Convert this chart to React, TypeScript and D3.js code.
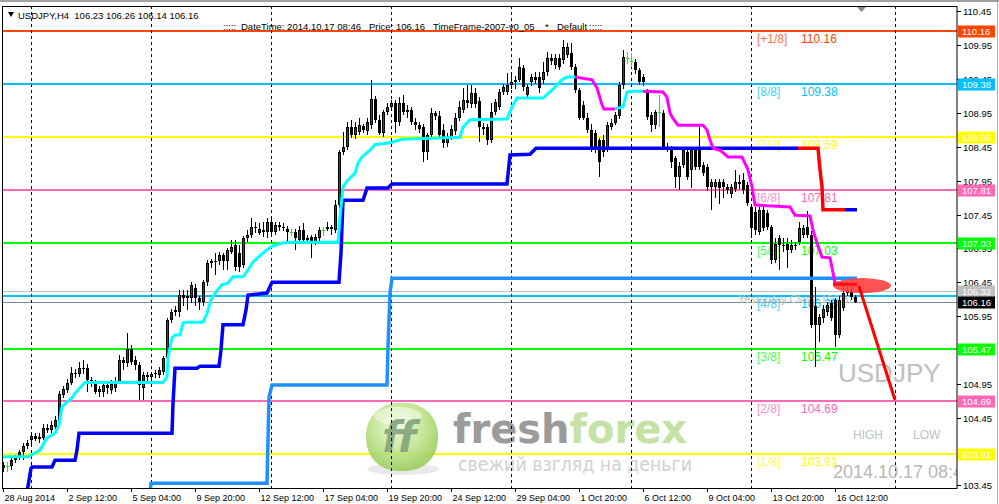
import React from "react";
import * as d3 from "d3";

// ---------- DATA ----------
// USDJPY H4 candles: [open, high, low, close]
const ohlc: [number, number, number, number][] = [
  [103.75,103.79,103.65,103.71],[103.74,103.79,103.64,103.74],[103.73,103.85,103.67,103.82],[103.82,103.90,103.78,103.86],
  [103.86,103.97,103.83,103.94],[103.94,104.07,103.82,104.03],[104.03,104.12,103.98,104.07],[104.12,104.22,104.04,104.18],
  [104.18,104.22,104.10,104.14],[104.14,104.22,104.07,104.17],[104.15,104.36,104.12,104.30],[104.30,104.36,104.22,104.26],
  [104.26,104.40,104.22,104.34],[104.31,104.47,104.28,104.41],[104.38,104.85,104.35,104.80],[104.79,104.92,104.74,104.87],
  [104.86,105.02,104.82,104.96],[104.96,105.20,104.93,105.11],[105.11,105.17,105.04,105.09],[105.09,105.27,105.05,105.18],
  [105.18,105.30,105.10,105.19],[105.19,105.24,104.83,105.00],[105.00,105.05,104.90,104.98],[104.98,105.01,104.80,104.83],
  [104.83,104.92,104.75,104.87],[104.83,104.98,104.76,104.93],[104.93,104.98,104.80,104.88],[104.86,105.00,104.80,104.95],
  [104.88,105.05,104.83,104.98],[104.98,105.37,104.95,105.30],[105.30,105.34,105.15,105.26],[105.25,105.70,105.20,105.46],
  [105.46,105.52,105.22,105.27],[105.30,105.36,105.16,105.23],[105.23,105.27,104.71,104.93],[104.88,105.12,104.71,105.08],
  [105.08,105.12,104.98,105.05],[105.05,105.13,105.00,105.09],[105.09,105.15,105.03,105.11],[105.08,105.20,105.04,105.15],
  [105.12,105.36,105.08,105.33],[105.33,105.92,105.30,105.89],[105.89,106.06,105.84,106.01],[106.01,106.10,105.95,106.04],
  [106.01,106.33,105.94,106.26],[106.26,106.33,106.10,106.22],[106.22,106.33,106.04,106.24],[106.22,106.45,106.15,106.41],
  [106.36,106.43,106.10,106.22],[106.22,106.25,106.04,106.16],[106.16,106.48,106.10,106.45],[106.45,106.78,106.40,106.73],
  [106.73,106.80,106.66,106.76],[106.76,106.88,106.56,106.77],[106.76,106.90,106.70,106.85],[106.85,106.88,106.63,106.76],
  [106.76,106.96,106.63,106.93],[106.90,107.07,106.86,106.97],[107.00,107.07,106.62,106.67],[106.88,107.00,106.60,106.67],
  [106.70,107.13,106.66,107.10],[107.10,107.22,107.05,107.15],[107.15,107.40,107.10,107.26],[107.26,107.34,107.18,107.25],
  [107.18,107.33,107.15,107.23],[107.22,107.34,107.12,107.19],[107.19,107.40,107.10,107.34],[107.34,107.38,107.12,107.19],
  [107.19,107.34,107.15,107.29],[107.29,107.34,107.20,107.26],[107.26,107.32,107.21,107.27],[107.24,107.28,107.03,107.19],
  [107.19,107.23,107.13,107.19],[107.19,107.23,106.93,107.10],[107.08,107.28,107.02,107.22],[107.22,107.32,107.03,107.07],
  [107.07,107.14,107.03,107.10],[107.12,107.15,106.81,107.04],[107.04,107.16,107.00,107.12],[107.10,107.26,107.05,107.22],
  [107.22,107.26,107.13,107.22],[107.24,107.34,107.20,107.26],[107.26,107.30,107.15,107.24],[107.22,107.66,107.18,107.59],
  [107.59,108.40,107.55,108.37],[108.37,108.67,108.33,108.45],[108.45,108.82,108.40,108.74],[108.74,108.85,108.58,108.62],
  [108.62,108.82,108.57,108.74],[108.67,108.88,108.62,108.77],[108.75,108.78,108.65,108.70],[108.68,108.88,108.63,108.81],
  [108.77,109.44,108.72,109.16],[109.15,109.20,108.80,108.85],[108.85,108.92,108.62,108.65],[108.65,109.00,108.60,108.96],
  [108.96,109.10,108.92,109.04],[109.04,109.14,108.99,109.09],[109.09,109.14,108.65,108.81],[108.81,109.18,108.76,109.09],
  [109.09,109.21,108.92,108.96],[108.96,109.07,108.88,109.00],[109.00,109.04,108.77,108.81],[108.81,108.88,108.70,108.77],
  [108.77,108.82,108.66,108.72],[108.74,108.78,108.22,108.37],[108.37,108.66,108.25,108.62],[108.62,109.02,108.58,108.95],
  [108.95,108.98,108.84,108.90],[108.90,108.98,108.58,108.62],[108.70,108.78,108.43,108.50],[108.50,108.66,108.45,108.60],
  [108.60,108.77,108.55,108.72],[108.68,108.95,108.63,108.88],[108.88,109.12,108.83,109.04],[109.00,109.32,108.95,109.14],
  [109.14,109.36,109.02,109.10],[109.08,109.36,109.03,109.24],[109.24,109.32,109.02,109.08],[109.12,109.18,108.52,108.74],
  [108.74,108.80,108.62,108.72],[108.74,108.78,108.48,108.55],[108.55,109.10,108.50,108.96],[108.96,109.16,108.92,109.11],
  [109.04,109.30,109.00,109.26],[109.26,109.38,109.22,109.33],[109.26,109.54,109.22,109.36],[109.36,109.54,109.30,109.40],
  [109.40,109.50,109.30,109.44],[109.44,109.76,109.40,109.63],[109.62,109.66,109.28,109.33],[109.21,109.38,109.17,109.33],
  [109.40,109.53,109.35,109.48],[109.48,109.55,109.38,109.44],[109.48,109.55,109.25,109.32],[109.44,109.70,109.38,109.55],
  [109.55,109.85,109.50,109.76],[109.76,109.82,109.66,109.72],[109.66,109.82,109.60,109.76],[109.76,109.82,109.58,109.63],
  [109.73,110.03,109.68,109.92],[109.80,109.98,109.76,109.92],[109.84,109.98,109.58,109.63],[109.63,109.68,109.25,109.29],
  [109.29,109.32,108.84,108.88],[109.07,109.12,108.84,108.88],[108.88,108.95,108.66,108.70],[108.70,108.78,108.38,108.43],
  [108.65,108.70,108.36,108.40],[108.55,108.58,108.00,108.22],[108.55,108.62,108.30,108.37],[108.43,108.82,108.38,108.77],
  [108.74,108.86,108.70,108.80],[108.80,108.97,108.77,108.92],[108.90,109.40,108.86,109.36],[109.36,109.88,109.30,109.78],
  [109.76,109.85,109.68,109.76],[109.72,109.84,109.63,109.72],[109.70,109.74,109.52,109.58],[109.58,109.62,109.36,109.40],
  [109.48,109.52,109.35,109.40],[109.26,109.30,108.85,108.89],[108.92,108.96,108.67,108.77],[108.77,109.00,108.72,108.96],
  [108.96,109.21,108.74,108.96],[108.95,109.00,108.40,108.45],[108.45,108.50,108.38,108.44],[108.40,108.46,108.14,108.22],
  [108.28,108.32,107.84,108.00],[108.00,108.22,107.81,108.16],[108.18,108.44,108.14,108.40],[108.37,108.42,107.96,108.00],
  [108.11,108.44,107.84,108.40],[108.40,108.44,108.10,108.15],[108.45,108.74,108.10,108.15],[108.18,108.22,108.02,108.06],
  [108.15,108.20,107.80,107.85],[107.85,107.98,107.52,107.93],[107.85,107.98,107.70,107.93],[107.93,107.98,107.60,107.84],
  [107.93,107.98,107.70,107.86],[107.86,107.90,107.76,107.81],[107.75,107.90,107.70,107.85],[107.82,108.11,107.78,107.93],
  [107.93,108.03,107.82,107.90],[107.96,108.06,107.76,107.81],[107.89,107.93,107.58,107.62],[107.56,107.60,107.10,107.25],
  [107.48,107.56,107.15,107.22],[107.19,107.56,107.15,107.52],[107.52,107.56,107.20,107.25],[107.47,107.52,107.22,107.26],
  [107.26,107.30,106.72,106.78],[106.78,107.10,106.74,107.02],[107.10,107.14,106.63,107.00],[107.00,107.10,106.90,106.98],
  [107.02,107.10,106.66,106.93],[106.93,107.08,106.88,107.00],[107.00,107.05,106.92,106.98],[107.04,107.34,107.00,107.25],
  [107.15,107.30,107.10,107.25],[107.26,107.50,107.10,107.15],[107.15,107.20,105.78,105.82],[106.10,106.38,105.20,105.82],
  [105.82,105.98,105.57,105.93],[105.92,106.12,105.85,106.06],[106.01,106.16,105.95,106.11],[106.14,106.18,105.88,105.92],
  [106.19,106.22,105.49,105.67],[105.67,106.24,105.63,106.19],[106.07,106.42,106.02,106.29],[106.29,106.42,106.24,106.33],
  [106.33,106.40,106.18,106.23],[106.23,106.26,106.14,106.16],
];

const timeLabels = ["28 Aug 2014","2 Sep 12:00","5 Sep 04:00","9 Sep 20:00","12 Sep 12:00","17 Sep 04:00","19 Sep 20:00",
  "24 Sep 12:00","29 Sep 04:00","1 Oct 20:00","6 Oct 12:00","9 Oct 04:00","13 Oct 20:00","16 Oct 12:00"];
const timeLabelBars = [0,16,32,48,64,80,96,112,128,144,160,176,192,208];
const weekGridBars = [7,37,67,97,127,157,187,223];

// price-axis labels that are not hidden under a level box
const priceTicks = [110.45,109.95,109.45,108.95,108.45,107.95,107.45,106.95,106.45,105.95,104.95,104.45,103.45];

const murreyNames = ["[+1/8]","[8/8]","[7/8]","[6/8]","[5/8]","[4/8]","[3/8]","[2/8]","[1/8]"];
const murreyValues = [110.16,109.38,108.59,107.81,107.03,106.25,105.47,104.69,103.91];
const murreyColors = ["#ff4500","#00bfff","#ffff00","#ff69b4","#00ff00","#00bfff","#00ff00","#ff69b4","#ffff00"];

const refLineValues = [106.32, 106.16];
const refLineColors = ["#c0c0c0", "#778899"];

const boxValues = [110.16,109.38,108.59,107.81,107.03,106.25,106.32,106.16,105.47,104.69,103.91];
const boxColors = ["#ff4500","#00bfff","#ffff00","#ff69b4","#00ff00","#00bfff","#c0c0c0","#000000","#00ff00","#ff69b4","#ffff00"];

// trailing lines: [barIndex, price]
const cyanA: [number, number][] = [[0,103.87],[6.25,103.87],[9.25,103.97],[11,104.15],[13,104.22],[14,104.34],[14.75,104.61],[16,104.68],
  [17.25,104.74],[18,104.81],[19.25,104.89],[20.5,104.97],[40,104.97],[41,105.05],[41.25,105.34],[42.25,105.63],[43,105.67],
  [44.25,105.67],[45,105.85],[46,105.86],[50,105.86],[51,105.99],[52,106.19],[53.5,106.33],[54.75,106.41],[56.25,106.44],
  [57.5,106.53],[60,106.53],[61.25,106.63],[62.5,106.75],[65,106.88],[66,106.93],[67.25,106.98],[70,107.03],[71.75,107.04],
  [83.75,107.04],[84.25,107.41],[85,107.86],[86.25,107.96],[88,108.06],[88.75,108.21],[89.75,108.30],[91.75,108.40],[93,108.48],
  [96.75,108.51],[99.75,108.56],[114.25,108.59],[115,108.74],[116.75,108.85],[126,108.86],[127.25,109.04],[128.5,109.17],
  [135,109.17],[136.75,109.26],[138,109.33],[139.75,109.44],[141,109.48],[143,109.48]];
const magentaA: [number, number][] = [[143,109.48],[147.25,109.44],[148.5,109.32],[149.75,109.07],[150.25,109.01],[153,109.01]];
const cyanB: [number, number][] = [[153,109.01],[155,109.04],[156,109.26],[156.75,109.27],[160,109.27]];
const magentaB: [number, number][] = [[160,109.27],[165,109.26],[166,109.18],[166.75,108.95],[167.5,108.87],[168.75,108.77],[175,108.77],
  [176,108.70],[176.75,108.55],[177.5,108.43],[179.25,108.40],[181.25,108.30],[184.75,108.30],[186.25,108.11],[187.25,107.86],
  [188,107.59],[196.75,107.56],[198,107.44],[201.75,107.43],[202.5,107.22],[203.5,107.03],[204.75,106.82],[206.75,106.81],
  [207.5,106.59],[208,106.44],[213.5,106.41]];
const blueA: [number, number][] = [[6,103.35],[7,103.70],[7.25,103.72],[12.25,103.72],[13,103.82],[18,103.82],[18.5,103.97],[19,104.22],
  [42.25,104.22],[42.5,104.66],[43,105.18],[48.5,105.18],[49.25,105.21],[54,105.21],[54.5,105.45],[55,105.82],[60,105.82],
  [60.75,106.04],[61.25,106.26],[66,106.29],[67.25,106.45],[84,106.45],[84.5,106.88],[85,107.66],[90,107.66],[91,107.84],
  [96.25,107.84],[97.25,107.90],[126,107.90],[126.75,108.33],[131.75,108.34],[133.25,108.43],[198.75,108.43]];
const redStep: [number, number][] = [[198.75,108.43],[203.75,108.43],[204.25,108.11],[204.75,107.86],[205,107.52],[210.5,107.52]];
const blueB: [number, number][] = [[210.5,107.52],[213.5,107.52]];
const dodgerA: [number, number][] = [[36.75,103.35],[37,103.48],[66,103.48],[66.5,104.75],[67.25,104.93],[96,104.93],[96.25,105.49],
  [96.75,106.29],[97.25,106.51],[213.5,106.51]];
const zoneCenter: [number, number] = [214.75, 106.40];
const zoneLine: [number, number][] = [[207.5,106.42],[213.5,106.42]];
const forecastLine: [number, number][] = [[214,106.39],[223,104.71]];

// ---------- COMPONENT ----------
export default function App() {
  const x = d3.scaleLinear().domain([0, 213]).range([3, 855]);
  const y = d3.scaleLinear().domain([103.45, 110.45]).range([485.3, 11.4]);
  const line = d3.line<[number, number]>().x(d => x(d[0])).y(d => y(d[1]));
  const cx = (i: number) => Math.round(x(i)) + 0.5;
  const ry = (v: number) => Math.round(y(v));
  const sans = "'Liberation Sans', Arial, sans-serif";
  const L = 3, R = 957, T = 6, B = 488;

  return (
    <svg width={999} height={504} style={{ position: "absolute", left: 0, top: 0, background: "#fff" }}
      fontFamily={sans}>
      <defs>
        <clipPath id="plot"><rect x={L} y={T + 1} width={R - L} height={B - T - 1} /></clipPath>
        <radialGradient id="lg" cx="45%" cy="35%" r="70%">
          <stop offset="0%" stopColor="#eef9dc" />
          <stop offset="45%" stopColor="#c2e690" />
          <stop offset="100%" stopColor="#8cc447" />
        </radialGradient>
      </defs>
      <rect x={0} y={0} width={999} height={504} fill="#fff" />
      <rect x={0} y={0} width={999} height={2} fill="#a0a0a0" />

      <g clipPath="url(#plot)">
        {murreyValues.map((v, k) => (
          <line key={"m" + k} x1={L} x2={R} y1={ry(v)} y2={ry(v)} stroke={murreyColors[k]} strokeWidth={2} />
        ))}
        {refLineValues.map((v, k) => (
          <line key={"r" + k} x1={L} x2={R} y1={ry(v) + 0.5} y2={ry(v) + 0.5} stroke={refLineColors[k]} strokeWidth={1} />
        ))}

        <g opacity={0.85}>
          <ellipse cx={403} cy={469} rx={36} ry={6} fill="#e6e6e6" />
          <rect x={366} y={403} width={72} height={68} rx={32} ry={32} fill="url(#lg)" />
          <ellipse cx={398} cy={416} rx={24} ry={9} fill="#ffffff" opacity={0.45} />
          <text x={382} y={452} fontFamily="'DejaVu Sans', sans-serif" fontWeight="bold" fontStyle="italic"
            fontSize={42} fill="#6f9468" opacity={0.9}>ff</text>
          <text x={453} y={443} fontFamily="'DejaVu Sans', sans-serif" fontWeight="bold" fontSize={40}>
            <tspan fill="#8a8a8a">fresh</tspan><tspan fill="#b9de94">forex</tspan>
          </text>
          <text x={458} y={471} fontFamily="'DejaVu Sans', sans-serif" fontSize={19} fill="#cacaca"
            textLength={234} lengthAdjust="spacingAndGlyphs">свежий взгляд на деньги</text>
        </g>

        {weekGridBars.map(b => (
          <line key={"g" + b} x1={cx(b)} x2={cx(b)} y1={T} y2={B} stroke="#000" strokeWidth={1} strokeDasharray="3,3" />
        ))}

        <text x={738} y={303} fontSize={11} fill="#c0c0c0">Yesterday Close 106.32</text>
        {murreyValues.map((v, k) => (
          <g key={"ml" + k}>
            <text x={757} y={ry(v) + 12} fontSize={12} fill={murreyColors[k]} opacity={0.75}>{murreyNames[k]}</text>
            <text x={801} y={ry(v) + 12} fontSize={12} fill={murreyColors[k]}>{v.toFixed(2)}</text>
          </g>
        ))}
        <text x={838} y={382} fontSize={26} fill="#c0c0c0">USDJPY</text>
        <text x={853} y={439} fontSize={12} fill="#c0c0c0">HIGH</text>
        <text x={913} y={439} fontSize={12} fill="#c0c0c0">LOW</text>
        <text x={833} y={478} fontSize={18} fill="#b8b8b8">2014.10.17 08:46</text>

        {ohlc.map(([o, h, l, c], i) => {
          const xc = cx(i);
          if (o === c) {
            return (
              <g key={"c" + i}>
                <line x1={xc} x2={xc} y1={ry(h)} y2={ry(l)} stroke="#00ff00" strokeWidth={1} />
                <line x1={xc - 1.5} x2={xc + 1.5} y1={ry(o) + 0.5} y2={ry(o) + 0.5} stroke="#00ff00" strokeWidth={1} />
              </g>
            );
          }
          const top = ry(Math.max(o, c));
          const bot = ry(Math.min(o, c));
          const hgt = Math.max(1, bot - top);
          return (
            <g key={"c" + i}>
              <line x1={xc} x2={xc} y1={ry(h)} y2={ry(l)} stroke="#000" strokeWidth={1} />
              <rect x={xc - 1.5} y={top} width={3} height={hgt} fill="#000" />
              {c > o && hgt > 2 ? <rect x={xc - 0.5} y={top + 1} width={1} height={hgt - 2} fill="#e00000" /> : null}
            </g>
          );
        })}

        <path d={line(dodgerA) || ""} fill="none" stroke="#1e90ff" strokeWidth={3.5} />
        <path d={line(blueA) || ""} fill="none" stroke="#0000ff" strokeWidth={3.5} />
        <path d={line(blueB) || ""} fill="none" stroke="#0000ff" strokeWidth={3.5} />
        <path d={line(redStep) || ""} fill="none" stroke="#ff0000" strokeWidth={3.5} />
        <path d={line(cyanA) || ""} fill="none" stroke="#00ffff" strokeWidth={3} />
        <path d={line(cyanB) || ""} fill="none" stroke="#00ffff" strokeWidth={3} />
        <path d={line(magentaA) || ""} fill="none" stroke="#ff00ff" strokeWidth={3} />
        <path d={line(magentaB) || ""} fill="none" stroke="#ff00ff" strokeWidth={3} />

        <ellipse cx={x(zoneCenter[0])} cy={y(zoneCenter[1])} rx={29} ry={7.5} fill="#ff4040" opacity={0.9} />
        <path d={line(zoneLine) || ""} fill="none" stroke="#ff1010" strokeWidth={3} />
        <path d={line(forecastLine) || ""} fill="none" stroke="#ff0000" strokeWidth={3} />
      </g>

      <rect x={2.5} y={T + 0.5} width={R - 2.5} height={B - T} fill="none" stroke="#000" strokeWidth={1} />
      <line x1={997.5} x2={997.5} y1={2} y2={504} stroke="#b0b0b0" strokeWidth={1} />
      <path d="M857,7 L866,7 L861.5,12 Z" fill="#8a8a96" />

      <path d="M8,12 L14,12 L11,17 Z" fill="#000" />
      <text x={18} y={19} fontSize={9.5} fill="#000" style={{ whiteSpace: "pre" }}>{"USDJPY,H4  106.23 106.26 106.14 106.16"}</text>
      <text x={223} y={30} fontSize={9.5} fill="#000">:::::</text>
      <text x={241} y={30} fontSize={9.5} fill="#000">DateTime: 2014.10.17 08:46</text>
      <text x={369} y={30} fontSize={9.5} fill="#000">Price: 106.16</text>
      <text x={433} y={30} fontSize={9.5} fill="#000">TimeFrame-2007-v0_05</text>
      <text x={545} y={30} fontSize={9.5} fill="#000">*</text>
      <text x={557} y={30} fontSize={9.5} fill="#000">Default</text>
      <text x={589} y={30} fontSize={9.5} fill="#000">:::::</text>

      {priceTicks.map(v => (
        <g key={"t" + v}>
          <line x1={R} x2={R + 4} y1={ry(v) + 0.5} y2={ry(v) + 0.5} stroke="#000" />
          <text x={963} y={ry(v) + 3.5} fontSize={9.5} fill="#000">{v.toFixed(2)}</text>
        </g>
      ))}
      {boxValues.map((v, k) => (
        <g key={"b" + k}>
          <rect x={958} y={ry(v) - 5.5} width={37} height={12} fill={boxColors[k]} />
          <text x={962} y={ry(v) + 4} fontSize={9.5} fill="#fff">{v.toFixed(2)}</text>
        </g>
      ))}

      {timeLabelBars.map((b, k) => (
        <g key={"x" + b}>
          <line x1={cx(b)} x2={cx(b)} y1={B} y2={B + 4} stroke="#000" />
          <text x={cx(b) + 1} y={501} fontSize={9} fill="#000">{timeLabels[k]}</text>
        </g>
      ))}
    </svg>
  );
}
